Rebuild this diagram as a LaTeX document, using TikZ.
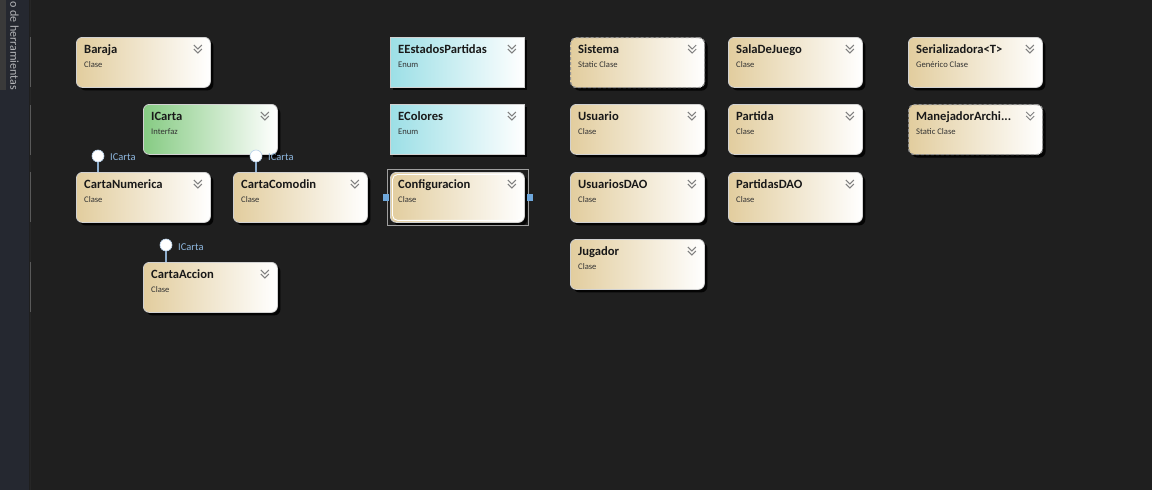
\documentclass[tikz,border=0pt]{standalone}
\usepackage{fontspec}
\setmainfont{Carlito}
\usetikzlibrary{shadows}
\definecolor{bg}{HTML}{1F1F1F}
\definecolor{side}{HTML}{252830}
\definecolor{sidetab}{HTML}{3A3A3A}
\definecolor{tan}{HTML}{E2CD9E}
\definecolor{mint}{HTML}{86CB83}
\definecolor{aqua}{HTML}{9CDFE6}
\definecolor{chev}{HTML}{808080}
\definecolor{lolli}{HTML}{8FB8E0}
\definecolor{handle}{HTML}{6FA8DC}
\tikzset{
  base/.style={minimum width=134pt, minimum height=50pt, inner sep=0pt,
    draw=white!82!black, line width=0.8pt, right color=white,
    drop shadow={shadow xshift=3pt, shadow yshift=-3pt, fill=black, opacity=0.85}},
  cls/.style={base, rounded corners=6pt, left color=tan},
  iface/.style={base, rounded corners=6pt, left color=mint},
  enm/.style={base, left color=aqua},
  stat/.style={cls, dash pattern=on 3pt off 2pt, line width=1.2pt, draw=gray!85},
  ttl/.style={font=\bfseries\fontsize{12.6}{13}\selectfont, text=black!90, anchor=base west, inner sep=0pt},
  sub/.style={font=\fontsize{8.6}{9}\selectfont, text=black!80, anchor=base west, inner sep=0pt},
  chevron/.style={draw=chev, line width=1pt},
  lollicirc/.style={circle, fill=white, draw=lolli!60!white, line width=0.6pt, minimum size=12pt, inner sep=0pt},
  stem/.style={draw=lolli!80!gray, line width=1.2pt},
  lollilabel/.style={text=lolli, font=\fontsize{10.5}{11}\selectfont, anchor=west, inner sep=0pt},
  handlebox/.style={fill=handle, minimum width=6pt, minimum height=7pt, inner sep=0pt},
}
\newcommand\UmlBox[6]{%
  \node[#2, anchor=north west] (#1) at (#3,#4) {};
  \node[ttl] (#1-t) at ([xshift=8pt,yshift=-16pt]#1.north west) {#5};
  \node[sub] (#1-s) at ([xshift=8pt,yshift=-30pt]#1.north west) {#6};
  \draw[chevron] ([xshift=-17pt,yshift=-8pt]#1.north east) -- ++(4,4) -- ++(4,-4);
  \draw[chevron] ([xshift=-17pt,yshift=-12pt]#1.north east) -- ++(4,4) -- ++(4,-4);
}
\begin{document}
\begin{tikzpicture}[x=1pt,y=-1pt]
\useasboundingbox (0,0) rectangle (1152,490);
\fill[bg] (0,0) rectangle (1152,490);
% side bar
\fill[side] (0,0) rectangle (29,490);
\fill[sidetab] (0,0) rectangle (6,90);
\draw[draw=black!70!gray, line width=0.8pt] (30,0) -- (30,490);
\foreach \a/\b in {37/87,105/155,172/222,262/312}{
  \draw[draw=gray!70!black, line width=0.8pt] (30,\a) -- (30,\b);
}
\node[rotate=-90, anchor=west, text=white!65!side, font=\fontsize{12}{12}\selectfont, inner sep=0pt] (tab) at (14.5,1) {o de herramientas};

% boxes
\UmlBox{baraja}{cls}{76}{37}{Baraja}{Clase}
\UmlBox{icarta}{iface}{143}{104}{ICarta}{Interfaz}
\UmlBox{cnum}{cls}{76}{172}{CartaNumerica}{Clase}
\UmlBox{ccom}{cls}{233}{172}{CartaComodin}{Clase}
\UmlBox{cacc}{cls}{143}{262}{CartaAccion}{Clase}
\UmlBox{eest}{enm}{390}{37}{EEstadosPartidas}{Enum}
\UmlBox{ecol}{enm}{390}{104}{EColores}{Enum}
\UmlBox{conf}{cls}{390}{172}{Configuracion}{Clase}
\UmlBox{sis}{stat}{570}{37}{Sistema}{Static Clase}
\UmlBox{sala}{cls}{728}{37}{SalaDeJuego}{Clase}
\UmlBox{seri}{cls}{908}{37}{Serializadora<T>}{Genérico Clase}
\UmlBox{usu}{cls}{570}{104}{Usuario}{Clase}
\UmlBox{par}{cls}{728}{104}{Partida}{Clase}
\UmlBox{man}{stat}{908}{104}{ManejadorArchi...}{Static Clase}
\UmlBox{udao}{cls}{570}{172}{UsuariosDAO}{Clase}
\UmlBox{pdao}{cls}{728}{172}{PartidasDAO}{Clase}
\UmlBox{jug}{cls}{570}{239}{Jugador}{Clase}

% selection of Configuracion
\draw[white, line width=0.9pt, rounded corners=5pt] ([shift={(2.5pt,2.5pt)}]conf.south west) rectangle ([shift={(-2.5pt,-2.5pt)}]conf.north east);
\node[draw=gray!75, line width=0.6pt, minimum width=141pt, minimum height=56pt, inner sep=0pt, anchor=north west] (confsel) at (387,169) {};
\node[handlebox] (hl) at ([xshift=-1.5pt]confsel.west) {};
\node[handlebox] (hr) at ([xshift=1.5pt]confsel.east) {};

% lollipops
\node[lollicirc] (lnum) at (98,156) {};
\draw[stem] (lnum) -- (lnum |- cnum.north);
\node[lollilabel] (lnumt) at (110,157.5) {ICarta};
\node[lollicirc] (lcom) at (256,156) {};
\draw[stem] (lcom) -- (lcom |- ccom.north);
\node[lollilabel] (lcomt) at (268,157.5) {ICarta};
\node[lollicirc] (lacc) at (166,245) {};
\draw[stem] (lacc) -- (lacc |- cacc.north);
\node[lollilabel] (lacct) at (178,247) {ICarta};
\end{tikzpicture}
\end{document}
